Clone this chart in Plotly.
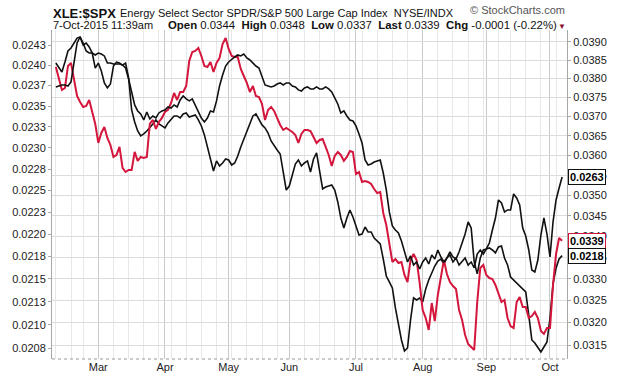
import math
import pandas as pd
import plotly.graph_objects as go

# ---- trading days (x categories) ----
holidays = ["2015-02-16", "2015-04-03", "2015-05-25", "2015-07-03", "2015-09-07"]
dates = pd.bdate_range("2015-02-09", "2015-10-07", freq="C", holidays=holidays)

# ---- series values ----
# XLE:$SPX (red, right axis)
xle_spx = [
    0.038312, 0.037989, 0.037697, 0.037750, 0.038339, 0.038419, 0.038016, 0.037537, 0.037380, 0.037249,
    0.037275, 0.037432, 0.037118, 0.036806, 0.036316, 0.036572, 0.036728, 0.036444, 0.036265, 0.035960,
    0.036010, 0.036214, 0.035682, 0.035581, 0.035631, 0.035631, 0.036087, 0.035859, 0.035960, 0.035934,
    0.035960, 0.036806, 0.036909, 0.036676, 0.036857, 0.036961, 0.037118, 0.037170, 0.037353, 0.037617,
    0.037432, 0.037644, 0.037644, 0.037803, 0.038473, 0.038719, 0.038746, 0.038828, 0.038609, 0.038339,
    0.038312, 0.038446, 0.038177, 0.038419, 0.038555, 0.038937, 0.039102, 0.038801, 0.038609, 0.038582,
    0.038582, 0.038258, 0.038070, 0.037883, 0.037644, 0.037803, 0.037537, 0.037511, 0.037327, 0.036909,
    0.037170, 0.037249, 0.037144, 0.036961, 0.036780, 0.036650, 0.036702, 0.036650, 0.036598, 0.036521,
    0.036316, 0.036547, 0.036650, 0.036650, 0.036624, 0.036469, 0.036316, 0.036393, 0.036418, 0.036214,
    0.036010, 0.035732, 0.035985, 0.036087, 0.036010, 0.035859, 0.035960, 0.036112, 0.036087, 0.035530,
    0.035581, 0.035332, 0.035356, 0.035332, 0.035283, 0.035158, 0.035059, 0.035084, 0.034569, 0.034278,
    0.033799, 0.033397, 0.033467, 0.033373, 0.033397, 0.033092, 0.032929, 0.033444, 0.033585, 0.033444,
    0.032906, 0.032286, 0.032104, 0.031835, 0.032445, 0.032036, 0.032629, 0.033045, 0.033444, 0.033115,
    0.032929, 0.032836, 0.032767, 0.032286, 0.032059, 0.031723, 0.031522, 0.031456, 0.031390, 0.032468,
    0.033256, 0.033326, 0.033092, 0.033021, 0.032998, 0.032859, 0.032675, 0.032468, 0.032514, 0.032104,
    0.031924, 0.031879, 0.032468, 0.032583, 0.032355, 0.032355, 0.032104, 0.032150, 0.032241, 0.032104,
    0.031813, 0.031746, 0.031879, 0.031879, 0.032859, 0.033585, 0.033964, 0.033900,
]

# black overlay on the left axis (last 0.0218)
black_a = [
    0.024026, 0.023964, 0.023915, 0.024038, 0.024175, 0.024213, 0.024275, 0.024337, 0.024350, 0.024250,
    0.024275, 0.024225, 0.024150, 0.023964, 0.024026, 0.023928, 0.023781, 0.023720, 0.023768, 0.023989,
    0.024038, 0.024026, 0.024001, 0.024026, 0.023842, 0.023453, 0.023309, 0.023201, 0.023142, 0.023166,
    0.023201, 0.023237, 0.023285, 0.023333, 0.023285, 0.023261, 0.023237, 0.023297, 0.023345, 0.023381,
    0.023381, 0.023357, 0.023405, 0.023417, 0.023369, 0.023381, 0.023393, 0.023333, 0.023261, 0.023154,
    0.023011, 0.022834, 0.022728, 0.022846, 0.022787, 0.022822, 0.022869, 0.022857, 0.022798, 0.022822,
    0.022904, 0.023011, 0.023106, 0.023213, 0.023297, 0.023381, 0.023405, 0.023333, 0.023273, 0.023237,
    0.023177, 0.023082, 0.023023, 0.022975, 0.022928, 0.022716, 0.022507, 0.022553, 0.022681, 0.022810,
    0.022857, 0.022787, 0.022822, 0.022846, 0.022716, 0.022869, 0.022940, 0.022705, 0.022519, 0.022542,
    0.022553, 0.022565, 0.022507, 0.022369, 0.022185, 0.022072, 0.022185, 0.022277, 0.022197, 0.022106,
    0.021992, 0.022003, 0.022083, 0.022026, 0.022026, 0.021958, 0.021925, 0.021891, 0.021722, 0.021533,
    0.021467, 0.021401, 0.021182, 0.020997, 0.020836, 0.020718, 0.020750, 0.021051, 0.021291, 0.021269,
    0.021291, 0.021247, 0.021390, 0.021489, 0.021567, 0.021644, 0.021700, 0.021722, 0.021667, 0.021744,
    0.021801, 0.021744, 0.021722, 0.021801, 0.021902, 0.022003, 0.022140, 0.022072, 0.021689, 0.021556,
    0.021733, 0.021823, 0.021834, 0.021846, 0.021823, 0.021790, 0.021857, 0.021868, 0.021733, 0.021656,
    0.021522, 0.021489, 0.021456, 0.021423, 0.021390, 0.021357, 0.021105, 0.020836, 0.020804, 0.020750,
    0.020708, 0.020761, 0.020814, 0.021073, 0.021445, 0.021622, 0.021722, 0.021760,
]

# black overlay on its own (unlabelled) scale (last 0.0263)
black_b = [
    0.027547, 0.027561, 0.027575, 0.027575, 0.027561, 0.027618, 0.027874, 0.028177, 0.028264, 0.028177,
    0.028061, 0.028032, 0.028032, 0.028004, 0.028032, 0.028018, 0.027990, 0.027888, 0.027888, 0.027874,
    0.027874, 0.027874, 0.027860, 0.027817, 0.027660, 0.027490, 0.027293, 0.027209, 0.027167, 0.027083,
    0.027195, 0.027097, 0.027139, 0.027111, 0.027181, 0.027209, 0.027223, 0.027264, 0.027250, 0.027293,
    0.027264, 0.027364, 0.027420, 0.027378, 0.027350, 0.027378, 0.027293, 0.027195, 0.027111, 0.027055,
    0.027111, 0.027209, 0.027195, 0.027350, 0.027561, 0.027717, 0.027845, 0.027903, 0.027946, 0.027975,
    0.028004, 0.027990, 0.028018, 0.027960, 0.027932, 0.027888, 0.027845, 0.027817, 0.027703, 0.027575,
    0.027561, 0.027547, 0.027561, 0.027589, 0.027604, 0.027575, 0.027604, 0.027604, 0.027561, 0.027547,
    0.027505, 0.027490, 0.027533, 0.027547, 0.027519, 0.027519, 0.027547, 0.027519, 0.027519, 0.027547,
    0.027519, 0.027476, 0.027392, 0.027307, 0.027181, 0.027209, 0.027139, 0.027083, 0.027069, 0.027000,
    0.026889, 0.026764, 0.026531, 0.026463, 0.026477, 0.026504, 0.026518, 0.026531, 0.026354, 0.026125,
    0.025831, 0.025645, 0.025593, 0.025553, 0.025448, 0.025318, 0.025175, 0.025253, 0.025136, 0.025175,
    0.025085, 0.025175, 0.025227, 0.025149, 0.025266, 0.025214, 0.025331, 0.025240, 0.025175, 0.025227,
    0.025266, 0.025175, 0.025227, 0.025136, 0.025175, 0.025227, 0.025136, 0.025175, 0.025098, 0.025279,
    0.025331, 0.025279, 0.025344, 0.025422, 0.025593, 0.025751, 0.025991, 0.025951, 0.025831, 0.025858,
    0.025858, 0.026072, 0.026018, 0.025924, 0.025619, 0.025514, 0.025331, 0.025072, 0.025046, 0.025201,
    0.025527, 0.025751, 0.025540, 0.025240, 0.025698, 0.025991, 0.026152, 0.026300,
]

# ---- tick labels ----
left_tickvals = [0.02075, 0.02100, 0.02125, 0.02150, 0.02175, 0.02200, 0.02225, 0.02250,
                 0.02275, 0.02300, 0.02325, 0.02350, 0.02375, 0.02400, 0.02425]
left_ticktext = ["0.0208", "0.0210", "0.0213", "0.0215", "0.0218", "0.0220", "0.0223", "0.0225",
                 "0.0228", "0.0230", "0.0233", "0.0235", "0.0237", "0.0240", "0.0243"]
right_tickvals = [0.0315, 0.0320, 0.0325, 0.0330, 0.0335, 0.0340, 0.0345, 0.0350,
                  0.0355, 0.0360, 0.0365, 0.0370, 0.0375, 0.0380, 0.0385, 0.0390]
right_ticktext = ["0.0315", "0.0320", "0.0325", "0.0330", "0.0335", "0.0340", "0.0345", "0.0350",
                  "0.0355", "0.0360", "0.0365", "0.0370", "0.0375", "0.0380", "0.0385", "0.0390"]

title_symbol = "XLE:$SPX"
title_desc = "Energy Select Sector SPDR/S&amp;P 500 Large Cap Index&nbsp;&nbsp;NYSE/INDX"
stamp = "7-Oct-2015 11:39am"
quote = ("<b>Open</b> 0.0344&nbsp;&nbsp;<b>High</b> 0.0348&nbsp;&nbsp;<b>Low</b> 0.0337"
         "&nbsp;&nbsp;<b>Last</b> 0.0339&nbsp;&nbsp;<b>Chg</b> -0.0001 (-0.22%)")

RED = "#d4163c"
FONT = "Liberation Sans, Arial, sans-serif"

x = list(range(len(dates)))
month_idx = [i for i in range(1, len(dates)) if dates[i].month != dates[i - 1].month]
month_txt = [dates[i].strftime("%b") for i in month_idx]
week_idx = [i for i in range(len(dates)) if i == 0 or dates[i].weekday() < dates[i - 1].weekday()]

fig = go.Figure()
fig.add_trace(go.Scatter(x=x, y=black_b, yaxis="y3", mode="lines",
                         line=dict(color="#111111", width=1.6), showlegend=False))
fig.add_trace(go.Scatter(x=x, y=black_a, yaxis="y", mode="lines",
                         line=dict(color="#111111", width=1.6), showlegend=False))
fig.add_trace(go.Scatter(x=x, y=xle_spx, yaxis="y2", mode="lines",
                         line=dict(color=RED, width=2), showlegend=False))

fig.update_layout(
    width=620, height=376, autosize=False,
    margin=dict(l=52, r=53, t=30, b=17, autoexpand=False),
    paper_bgcolor="white", plot_bgcolor="white",
    font=dict(family=FONT, size=11, color="#222"),
    xaxis=dict(range=[-1.27, 168.61], tickmode="array", tickvals=month_idx, ticktext=month_txt,
               automargin=False,
               showgrid=True, gridcolor="#c9c9c9", gridwidth=1, zeroline=False, showline=False,
               ticks="", tickfont=dict(size=11, color="#222"),
               minor=dict(tickmode="array", tickvals=week_idx, showgrid=True,
                          gridcolor="#e8e8e8", gridwidth=1)),
    yaxis=dict(type="log", range=[-1.685439, -1.611937], tickmode="array", automargin=False,
               tickvals=left_tickvals, ticktext=left_ticktext, showgrid=False, zeroline=False,
               showline=True, linecolor="#a8a8a8", ticks="outside", ticklen=3, tickcolor="#a8a8a8",
               tickfont=dict(size=11, color="#222")),
    yaxis2=dict(type="log", range=[-1.505972, -1.405357], overlaying="y", side="right",
                tickmode="array", tickvals=right_tickvals, ticktext=right_ticktext, automargin=False,
                showgrid=True, gridcolor="#dcdcdc", zeroline=False, showline=True,
                linecolor="#a8a8a8", ticks="outside", ticklen=3, tickcolor="#a8a8a8",
                tickfont=dict(size=11, color="#222")),
    yaxis3=dict(type="log", range=[-1.620704, -1.547202], overlaying="y", visible=False,
                automargin=False),
)

# dotted bottom border
fig.add_shape(type="line", xref="paper", yref="paper", x0=0, x1=1, y0=0, y1=0,
              line=dict(color="#999", width=1, dash="dot"))

# header
fig.add_annotation(xref="paper", yref="paper", x=0, y=1, xanchor="left", yanchor="middle",
                   xshift=-1, yshift=17, showarrow=False,
                   text=f"<b>{title_symbol}</b>", font=dict(size=13, color="#111"))
fig.add_annotation(xref="paper", yref="paper", x=0, y=1, xanchor="left", yanchor="middle",
                   xshift=66, yshift=17, showarrow=False,
                   text=title_desc, font=dict(size=11, color="#111"))
fig.add_annotation(xref="paper", yref="paper", x=1, y=1, xanchor="right", yanchor="middle",
                   xshift=0, yshift=20, showarrow=False,
                   text="© StockCharts.com", font=dict(size=11, color="#555"))
fig.add_annotation(xref="paper", yref="paper", x=0, y=1, xanchor="left", yanchor="middle",
                   xshift=-1, yshift=5, showarrow=False,
                   text=stamp, font=dict(size=11, color="#111"))
fig.add_annotation(xref="paper", yref="paper", x=1, y=1, xanchor="right", yanchor="middle",
                   xshift=-8, yshift=5, showarrow=False,
                   text=quote, font=dict(size=11.4, color="#111"))
fig.add_annotation(xref="paper", yref="paper", x=1, y=1, xanchor="right", yanchor="middle",
                   xshift=1, yshift=4, showarrow=False,
                   text="▼", font=dict(size=8, color="#8b1030"))

# last-value boxes on the right
for series, ref, col in [(black_b, "y3", "#111111"), (xle_spx, "y2", RED), (black_a, "y", "#111111")]:
    last = series[-1]
    fig.add_annotation(xref="paper", x=1, yref=ref, y=math.log10(last), xanchor="left",
                       yanchor="middle", xshift=1, showarrow=False,
                       text=f"<b>{last:.4f}</b>", bgcolor="white", bordercolor=col,
                       borderwidth=1, borderpad=1, font=dict(size=11, color="#000"))

fig.write_html("out.html",
               config={"displayModeBar": False, "responsive": False},
               post_script="document.body.style.margin='0';document.body.style.overflow='hidden';")
